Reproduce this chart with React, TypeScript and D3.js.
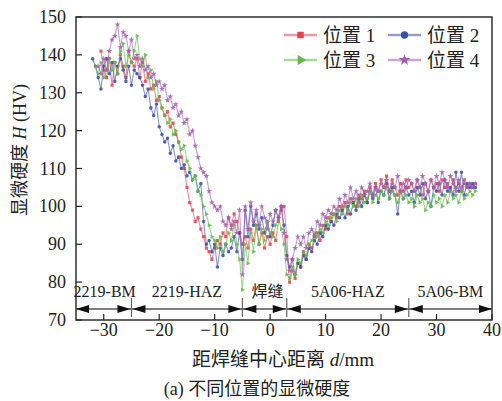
import React from "react";
import * as d3 from "d3";

// measurement spacing (mm) shared by all four traverses
const stepMm = 0.5;

const pos1Start = -30.5;
const pos1 = [
  141, 136, 134, 139, 132, 138, 135, 140, 137, 134, 141, 138,
  137, 139, 134, 138, 133, 135, 131, 132, 128, 129,
  126, 124, 125, 121, 122, 119, 117, 113, 110, 105,
  101, 99, 96, 97, 94, 92, 89, 88, 86, 89,
  91, 90, 93, 92, 97, 95, 98, 96, 93, 90,
  92, 89, 94, 91, 95, 90, 93, 89, 92, 90,
  93, 91, 96, 99, 100, 92, 80, 83, 81, 85,
  84, 88, 86, 90, 89, 92, 93, 91, 95, 94,
  97, 96, 98, 97, 100, 99, 101, 98, 102, 101,
  100, 103, 102, 104, 101, 105, 103, 106, 104, 107,
  105, 108, 104, 107, 105, 103, 106, 104, 107, 105,
  106, 104, 107, 105, 103, 106, 104, 107, 105, 106,
  104, 107, 105, 106, 104, 107, 105, 106, 104, 107,
  105, 106, 105, 106,
];

const pos2Start = -32;
const pos2 = [
  139, 137, 134, 131, 137, 139, 135, 138, 133, 137, 139, 136, 133, 137, 132,
  136, 135, 134, 132, 129, 131, 126, 124, 127, 121,
  119, 117, 118, 114, 116, 112, 113, 110, 111, 108,
  109, 107, 108, 104, 106, 96, 90, 91, 88, 90,
  84, 89, 87, 90, 88, 89, 92, 88, 93, 86,
  99, 92, 100, 95, 98, 94, 97, 93, 96, 92,
  95, 99, 97, 100, 95, 87, 84, 86, 82, 85,
  84, 87, 86, 89, 88, 91, 90, 93, 92, 95,
  94, 96, 95, 98, 97, 99, 97, 100, 98, 101,
  99, 102, 100, 103, 101, 104, 102, 105, 101, 104,
  103, 106, 102, 105, 103, 98, 104, 102, 105, 103,
  104, 101, 105, 103, 106, 102, 104, 100, 105, 104,
  106, 103, 107, 104, 105, 103, 109, 104, 109, 103,
  106, 105, 106, 105,
];

const pos3Start = -31.5;
const pos3 = [
  137, 135, 138, 134, 136, 139, 136, 138, 135, 141, 143, 137, 140, 138,
  141, 145, 139, 137, 140, 134, 136, 131, 133, 128,
  126, 124, 122, 123, 119, 120, 117, 115, 116, 112,
  110, 107, 108, 104, 103, 100, 98, 95, 92, 91,
  89, 92, 88, 90, 93, 91, 95, 90, 86, 78,
  90, 85, 93, 88, 95, 90, 94, 91, 96, 93,
  92, 95, 97, 94, 90, 82, 81, 84, 82, 86,
  85, 88, 87, 90, 91, 93, 92, 94, 93, 96,
  95, 97, 98, 96, 99, 98, 100, 99, 101, 100,
  102, 100, 103, 101, 102, 104, 101, 103, 102, 104,
  103, 105, 102, 104, 103, 101, 104, 102, 103, 101,
  102, 100, 103, 101, 102, 99, 101, 100, 103, 101,
  102, 100, 103, 101, 104, 102, 103, 101, 104, 102,
  103, 104, 103, 104,
];

const pos4Start = -31;
const pos4 = [
  137, 135, 139, 136, 141, 144, 145, 148, 142, 146, 145, 141, 144,
  139, 140, 137, 139, 136, 137, 134, 135, 132, 133,
  131, 132, 128, 129, 126, 127, 124, 125, 122, 123,
  119, 120, 116, 113, 110, 109, 108, 104, 101, 100,
  99, 100, 96, 95, 97, 94, 96, 93, 99, 82,
  100, 94, 101, 96, 99, 95, 100, 97, 94, 98,
  96, 99, 97, 100, 93, 86, 83, 86, 89, 92,
  90, 92, 89, 93, 94, 92, 96, 95, 98, 97,
  99, 98, 100, 99, 102, 100, 103, 101, 105, 102,
  104, 101, 105, 103, 104, 106, 103, 105, 104, 106,
  105, 107, 104, 106, 105, 108, 104, 106, 105, 107,
  106, 104, 107, 105, 108, 106, 104, 107, 105, 108,
  106, 109, 107, 105, 108, 106, 104, 107, 105, 106,
  105, 106, 105, 106,
];

const seriesNames = ["位置 1", "位置 2", "位置 3", "位置 4"];
const xTicks = [-30, -20, -10, 0, 10, 20, 30, 40];
const yTicks = [70, 80, 90, 100, 110, 120, 130, 140, 150];

// zone boundaries along the traverse
const zoneEdges = [-35, -25, -5, 3, 25, 40];
const zoneNames = ["2219-BM", "2219-HAZ", "焊缝", "5A06-HAZ", "5A06-BM"];

const colors = ["#e3454f", "#3b4ea6", "#5fba46", "#a45bb2"];
const symbols = [d3.symbolSquare, d3.symbolCircle, d3.symbolTriangle, d3.symbolStar];
const symbolSizes = [10, 10, 9, 11];

const serif = "'Liberation Serif', 'Noto Sans CJK SC', serif";

export default function App() {
  const left = 76, right = 492, top = 17, bottom = 320;

  const x = d3.scaleLinear().domain([-35, 40]).range([left, right]);
  const y = d3.scaleLinear().domain([70, 150]).range([bottom, top]);

  const raw = [
    { start: pos1Start, vals: pos1 },
    { start: pos2Start, vals: pos2 },
    { start: pos3Start, vals: pos3 },
    { start: pos4Start, vals: pos4 },
  ];
  const series = raw.map((s, k) => ({
    name: seriesNames[k],
    color: colors[k],
    pts: s.vals.map((v, i) => [s.start + i * stepMm, v] as [number, number]),
  }));

  const line = d3
    .line<[number, number]>()
    .x((d) => x(d[0]))
    .y((d) => y(d[1]));

  const symPath = (k: number, size: number) => d3.symbol().type(symbols[k]).size(size)() || "";
  const symRot = (k: number) => (k === 2 ? 90 : 0);

  const zoneY = y(72.9);
  const head = (px: number, dir: number, key: string) => (
    <path
      key={key}
      d={`M${px},${zoneY} L${px - dir * 13},${zoneY - 4} L${px - dir * 13},${zoneY + 4} Z`}
      fill="#111"
    />
  );

  return (
    <svg
      width={502}
      height={401}
      style={{ position: "absolute", left: 0, top: 0, background: "#fff" }}
    >
      {/* data */}
      {series.map((s, k) => (
        <g key={s.name}>
          <path d={line(s.pts) || ""} fill="none" stroke={s.color} strokeWidth={1.1} strokeOpacity={0.6} />
          {s.pts.map((p, i) => (
            <path
              key={i}
              d={symPath(k, symbolSizes[k])}
              transform={`translate(${x(p[0])},${y(p[1])}) rotate(${symRot(k)})`}
              fill={s.color}
              fillOpacity={0.85}
            />
          ))}
        </g>
      ))}

      {/* zone annotation */}
      <line x1={left} x2={right} y1={zoneY} y2={zoneY} stroke="#555" strokeWidth={1.3} />
      {zoneEdges.map((e, i) => (
        <g key={"ze" + i}>
          {i > 0 && head(x(e) - (i < zoneEdges.length - 1 ? 1 : 0), 1, "r" + i)}
          {i < zoneEdges.length - 1 && head(x(e) + (i > 0 ? 1 : 0), -1, "l" + i)}
          {i > 0 && i < zoneEdges.length - 1 && (
            <line x1={x(e)} x2={x(e)} y1={zoneY - 11} y2={zoneY + 8} stroke="#666" strokeWidth={1.2} />
          )}
        </g>
      ))}
      {zoneNames.map((n, i) => (
        <text
          key={n}
          x={(x(zoneEdges[i]) + x(zoneEdges[i + 1])) / 2 + (i === 0 ? 1 : i === 2 ? 3 : 0)}
          y={297}
          textAnchor="middle"
          fontFamily={serif}
          fontSize={16}
          fill="#222"
        >
          {n}
        </text>
      ))}

      {/* frame */}
      <rect x={left} y={top} width={right - left} height={bottom - top} fill="none" stroke="#222" strokeWidth={1.4} />

      {/* ticks */}
      {xTicks.map((t) => (
        <g key={"xt" + t}>
          <line x1={x(t)} x2={x(t)} y1={bottom} y2={bottom - 6} stroke="#222" strokeWidth={1.2} />
          <text x={x(t)} y={336} textAnchor="middle" fontFamily={serif} fontSize={18} fill="#222">
            {t < 0 ? "\u2212" + Math.abs(t) : t}
          </text>
        </g>
      ))}
      {yTicks.map((t) => (
        <g key={"yt" + t}>
          <line x1={left} x2={left + 6} y1={y(t)} y2={y(t)} stroke="#222" strokeWidth={1.2} />
          <text x={66} y={y(t) + 6} textAnchor="end" fontFamily={serif} fontSize={18} fill="#222">
            {t}
          </text>
        </g>
      ))}

      {/* legend */}
      {series.map((s, k) => {
        const lx = k % 2 === 0 ? 284 : 388;
        const ly = k < 2 ? 35 : 60;
        return (
          <g key={"lg" + k}>
            <line x1={lx} x2={lx + 33} y1={ly} y2={ly} stroke={s.color} strokeWidth={2.6} strokeOpacity={0.55} />
            <path
              d={symPath(k, 42)}
              transform={`translate(${lx + 16.5},${ly}) rotate(${symRot(k)})`}
              fill={s.color}
            />
            <text x={lx + 39} y={ly + 7} fontFamily={serif} fontSize={19} fill="#222">
              {s.name}
            </text>
          </g>
        );
      })}

      {/* axis titles */}
      <text
        transform="translate(26,150) rotate(-90)"
        textAnchor="middle"
        fontFamily={serif}
        fontSize={18}
        fill="#222"
      >
        显微硬度 <tspan fontStyle="italic">H</tspan> (HV)
      </text>
      <text x={283} y={366} textAnchor="middle" fontFamily={serif} fontSize={19} fill="#222">
        距焊缝中心距离 <tspan fontStyle="italic">d</tspan>/mm
      </text>
      <text x={257} y={395} textAnchor="middle" fontFamily={serif} fontSize={18} fill="#222">
        (a) 不同位置的显微硬度
      </text>
    </svg>
  );
}
